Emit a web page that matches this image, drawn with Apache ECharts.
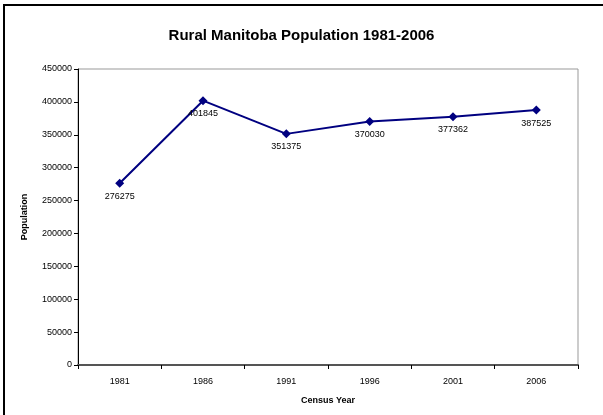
<!DOCTYPE html>
<html><head><meta charset="utf-8">
<script src="https://cdn.jsdelivr.net/npm/echarts@6/dist/echarts.min.js"></script>
<style>html,body{margin:0;padding:0;background:#fff}#c{width:603px;height:415px}</style>
</head><body><div id="c"></div>
<script>
const years = ['1981','1986','1991','1996','2001','2006'];
const population = [276275, 401845, 351375, 370030, 377362, 387525];
const yTicks = [0,50000,100000,150000,200000,250000,300000,350000,400000,450000];

const chart = echarts.init(document.getElementById('c'), null, {renderer:'canvas'});
chart.setOption({
  animation:false,
  backgroundColor:'#fff',
  textStyle:{fontFamily:'Liberation Sans, Arial, sans-serif'},
  title:{text:'Rural Manitoba Population 1981-2006', left:'center', top:23,
    textStyle:{fontSize:15, fontWeight:'bold', color:'#000', fontFamily:'Liberation Sans, Arial, sans-serif'}},
  graphic:[{type:'rect', shape:{x:4,y:5,width:700,height:500}, style:{fill:'none', stroke:'#000', lineWidth:2}, z:100}],
  grid:{left:78, right:25, top:69, bottom:50, show:true, borderColor:'#999', borderWidth:1},
  xAxis:{type:'category', data:years, boundaryGap:true,
    name:'Census Year', nameLocation:'middle', nameGap:31,
    nameTextStyle:{fontSize:9, fontWeight:'bold', color:'#000'},
    axisLine:{lineStyle:{color:'#555', width:2}},
    axisTick:{show:true, length:4, lineStyle:{color:'#000'}},
    axisLabel:{fontSize:9, color:'#000', margin:12},
    splitLine:{show:false}},
  yAxis:{type:'value', min:yTicks[0], max:yTicks[yTicks.length-1], interval:50000,
    name:'Population', nameLocation:'middle', nameGap:49, nameRotate:90,
    nameTextStyle:{fontSize:9, fontWeight:'bold', color:'#000'},
    axisLine:{show:true, lineStyle:{color:'#000', width:1}},
    axisTick:{show:true, length:4, inside:false, lineStyle:{color:'#000'}},
    axisLabel:{fontSize:9, color:'#000', margin:6, formatter:function(v){return String(v);}},
    splitLine:{show:false}},
  series:[{type:'line', data:population, symbol:'diamond', symbolSize:9,
    lineStyle:{color:'#000080', width:2}, itemStyle:{color:'#000080'},
    label:{show:true, position:'bottom', distance:4, fontSize:9, color:'#000'}}]
});
</script></body></html>
